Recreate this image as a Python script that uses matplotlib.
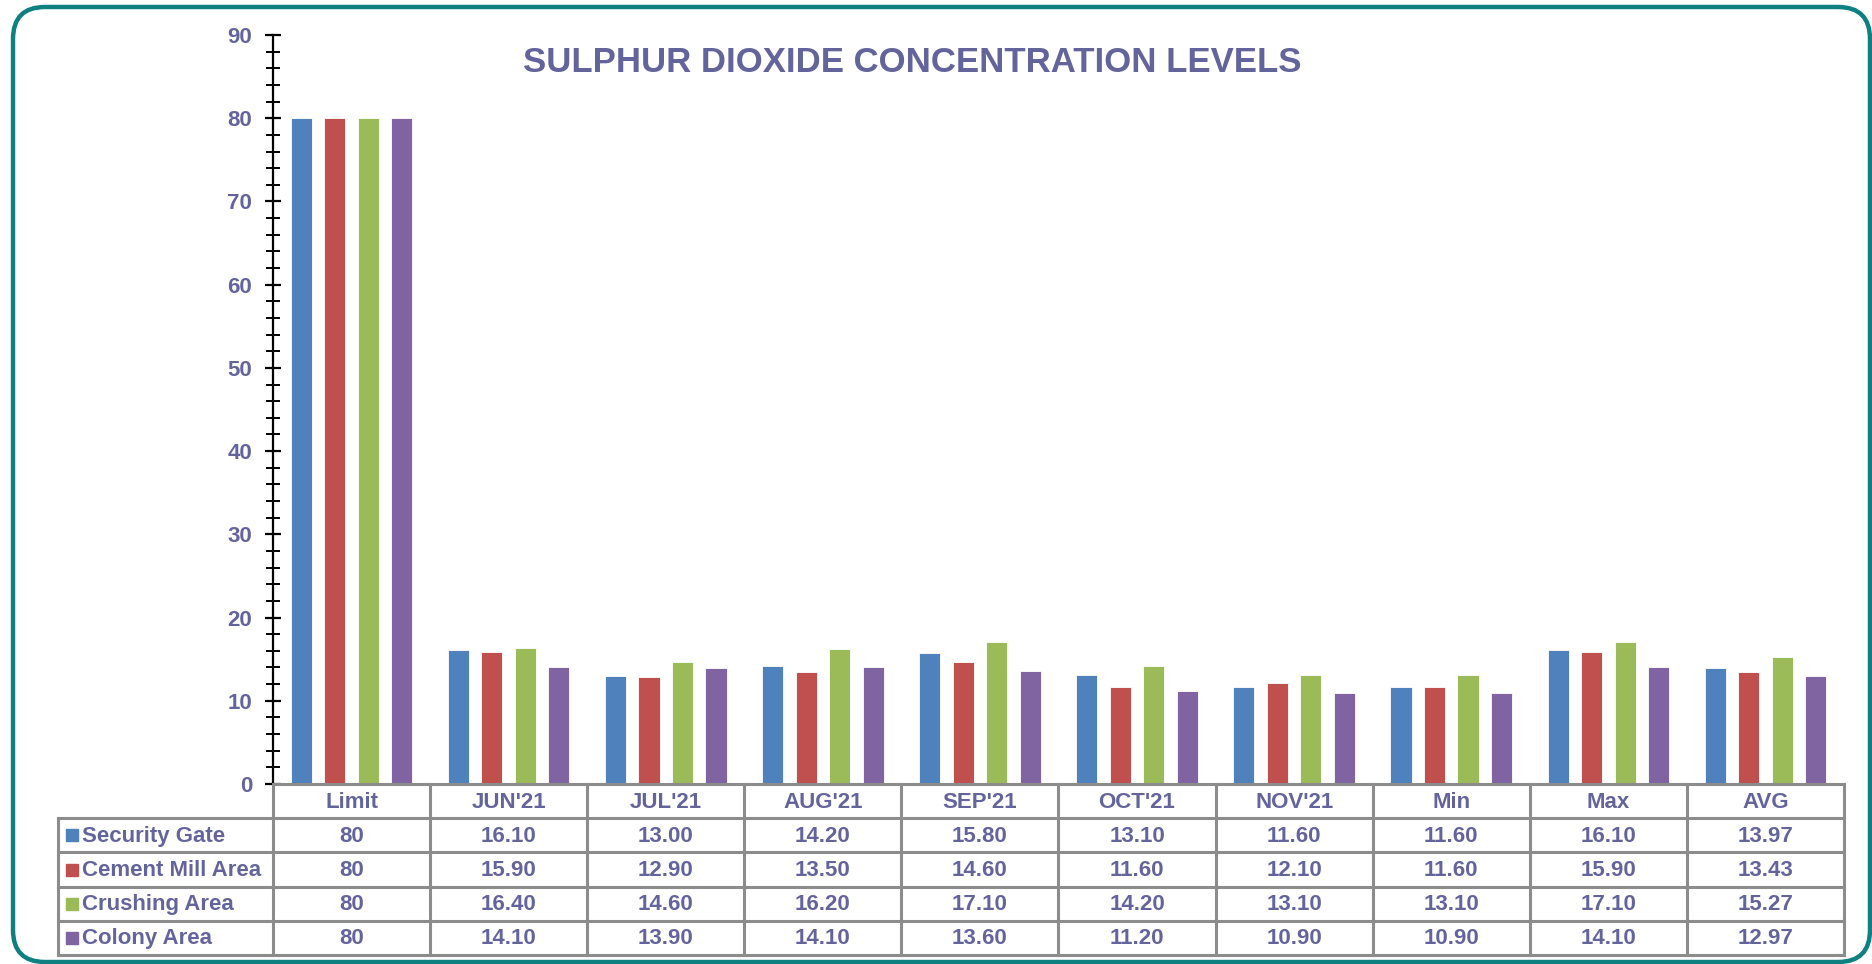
import matplotlib
matplotlib.use("Agg")
import matplotlib.pyplot as plt
from matplotlib.patches import FancyBboxPatch
from matplotlib.ticker import MultipleLocator

categories = ["Limit", "JUN'21", "JUL'21", "AUG'21", "SEP'21", "OCT'21", "NOV'21", "Min", "Max", "AVG"]
series_names = ["Security Gate", "Cement Mill Area", "Crushing Area", "Colony Area"]
security_gate = [80, 16.10, 13.00, 14.20, 15.80, 13.10, 11.60, 11.60, 16.10, 13.97]
cement_mill = [80, 15.90, 12.90, 13.50, 14.60, 11.60, 12.10, 11.60, 15.90, 13.43]
crushing_area = [80, 16.40, 14.60, 16.20, 17.10, 14.20, 13.10, 13.10, 17.10, 15.27]
colony_area = [80, 14.10, 13.90, 14.10, 13.60, 11.20, 10.90, 10.90, 14.10, 12.97]
series_values = [security_gate, cement_mill, crushing_area, colony_area]
colors = ["#4F81BD", "#C0504D", "#9BBB59", "#8064A2"]
title = "SULPHUR DIOXIDE CONCENTRATION LEVELS"

TXT = "#64649C"
W, H = 1872, 964
FS = 16
plt.rcParams['font.family'] = ['Liberation Sans', 'DejaVu Sans']

fig = plt.figure(figsize=(W / 100, H / 100), dpi=100)

# background / border
bg = fig.add_axes([0, 0, 1, 1])
bg.set_xlim(0, W)
bg.set_ylim(H, 0)
bg.axis('off')
bg.add_patch(FancyBboxPatch((13, 7), 1857, 955, boxstyle="round,pad=0,rounding_size=32",
                            fill=False, edgecolor="#0E8080", linewidth=3.2, clip_on=False))

# geometry in pixels
ax_l, ax_r, ax_t, ax_b = 273, 1844, 35, 784
tab_l, tab_b = 58, 955

ax = fig.add_axes([ax_l / W, 1 - ax_b / H, (ax_r - ax_l) / W, (ax_b - ax_t) / H])
n = len(categories)
step = 0.2133
bw = 0.134
for j, vals in enumerate(series_values):
    xs = [i + (j - 1.5) * step for i in range(n)]
    ax.bar(xs, vals, width=bw, color=colors[j], edgecolor='white', linewidth=0.6)
ax.set_xlim(-0.5, n - 0.5)
ax.set_ylim(0, 90)
ax.yaxis.set_major_locator(MultipleLocator(10))
ax.yaxis.set_minor_locator(MultipleLocator(2))
ax.tick_params(axis='y', which='major', direction='inout', length=12, width=1.6, color='black',
               labelsize=FS, labelcolor=TXT, pad=9)
ax.tick_params(axis='y', which='minor', direction='inout', length=10, width=1.4, color='black')
for lab in ax.get_yticklabels():
    lab.set_fontweight('bold')
ax.set_xticks([])
for s in ['top', 'right', 'bottom']:
    ax.spines[s].set_visible(False)
ax.spines['left'].set_color('black')
ax.spines['left'].set_linewidth(1.6)
ax.patch.set_alpha(0)

# title
fig.text(912 / W, 1 - 62 / H, title, ha='center', va='center', fontsize=25, fontweight='bold',
         color=TXT)

# data table
tab = fig.add_axes([tab_l / W, 1 - tab_b / H, (ax_r - tab_l) / W, (tab_b - ax_b) / H])
leg_w = (ax_l - tab_l) / ((ax_r - ax_l) / n)
x0 = -0.5 - leg_w
tab.set_xlim(x0, n - 0.5)
tab.set_ylim(5, 0)
tab.axis('off')
gc = '#8C8C8C'
lw = 2.2
tab.plot([-0.5, n - 0.5], [0, 0], color=gc, lw=lw, solid_capstyle='projecting', clip_on=False)
for r in range(1, 6):
    tab.plot([x0, n - 0.5], [r, r], color=gc, lw=lw, solid_capstyle='projecting', clip_on=False)
tab.plot([x0, x0], [1, 5], color=gc, lw=lw, solid_capstyle='projecting', clip_on=False)
for k in range(n + 1):
    tab.plot([k - 0.5, k - 0.5], [0, 5], color=gc, lw=lw, solid_capstyle='projecting', clip_on=False)

for i, c in enumerate(categories):
    tab.text(i, 0.53, c, ha='center', va='center', fontsize=FS, fontweight='bold', color=TXT)
unit = (ax_r - ax_l) / n
for j, name in enumerate(series_names):
    r = j + 1
    tab.plot([x0 + 14 / unit], [r + 0.5], marker='s', markersize=9, color=colors[j], linestyle='none')
    tab.text(x0 + 24 / unit, r + 0.53, name, ha='left', va='center', fontsize=FS, fontweight='bold', color=TXT)
    for i, v in enumerate(series_values[j]):
        s = f"{v:.0f}" if i == 0 else f"{v:.2f}"
        tab.text(i, r + 0.53, s, ha='center', va='center', fontsize=FS, fontweight='bold', color=TXT)

fig.savefig("out.png", dpi=100)
